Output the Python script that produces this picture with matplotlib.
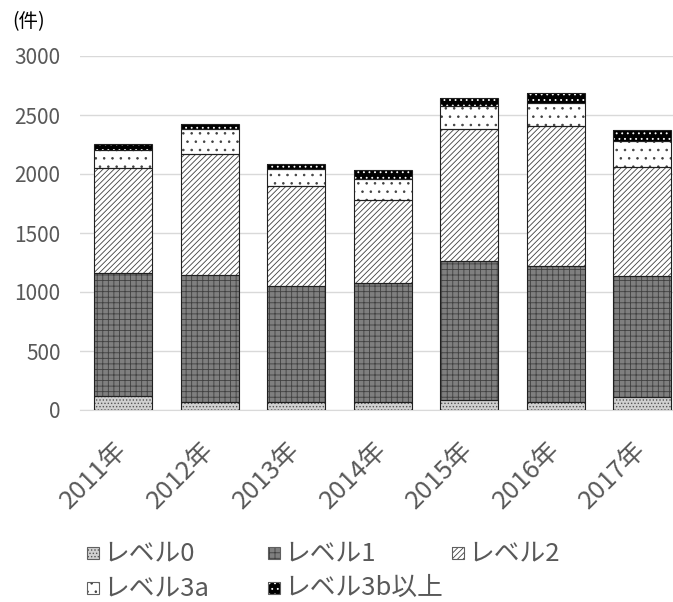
import numpy as np
import matplotlib
matplotlib.use('Agg')
import matplotlib.pyplot as plt
from matplotlib.patches import Rectangle

plt.rcParams['font.family'] = ['Noto Sans CJK JP', 'DejaVu Sans']
plt.rcParams['hatch.linewidth'] = 0.6

years = ['2011年', '2012年', '2013年', '2014年', '2015年', '2016年', '2017年']
level0 = [116, 70, 65, 65, 85, 70, 108]
level1 = [1042, 1074, 989, 1008, 1178, 1150, 1028]
level2 = [890, 1025, 844, 704, 1118, 1190, 921]
level3a = [155, 212, 142, 183, 195, 189, 225]
level3b = [49, 43, 42, 74, 65, 85, 91]
labels = ['レベル0', 'レベル1', 'レベル2', 'レベル3a', 'レベル3b以上']

series = [level0, level1, level2, level3a, level3b]
# face colour, hatch, hatch colour
styles = [
    ('#d0d0d0', '.....', '#555555'),
    ('#7f7f7f', '+++', '#404040'),
    ('#ffffff', '//////', '#404040'),
    ('#ffffff', '..', '#404040'),
    ('#000000', '...', '#ffffff'),
]

W, H = 673, 602
fig = plt.figure(figsize=(W / 100, H / 100), dpi=100)
ax = fig.add_axes([80 / W, 1 - 410 / H, 593 / W, 354 / H])

x = np.arange(len(years))
w = 0.67
bottom = np.zeros(len(years))
for vals, (fc, hatch, hc) in zip(series, styles):
    vals = np.array(vals)
    ax.bar(x, vals, w, bottom=bottom, color=fc, hatch=hatch, edgecolor=hc,
           linewidth=0, zorder=2)
    ax.bar(x, vals, w, bottom=bottom, fill=False, edgecolor='#202020',
           linewidth=0.8, zorder=3)
    bottom += vals

ax.set_ylim(0, 3000)
ax.set_xlim(-0.5, -0.5 + 593 / 86.5)
ax.set_yticks(range(0, 3001, 500))
ax.yaxis.grid(True, color='#d9d9d9', linewidth=1, zorder=0)
ax.set_axisbelow(True)
for s in ['top', 'right', 'left']:
    ax.spines[s].set_visible(False)
ax.spines['bottom'].set_color('#d9d9d9')
ax.tick_params(length=0, labelcolor='#595959')
ax.tick_params(axis='y', labelsize=15, pad=14)
ax.set_xticks(x)
ax.set_xticklabels(years, rotation=45, ha='right', va='center',
                   rotation_mode='anchor', fontsize=18.5, color='#595959')
ax.tick_params(axis='x', pad=26)

fig.text(12 / W, 1 - 22 / H, '(件)', fontsize=14, color='#000000',
         va='center', ha='left')

# legend laid out by hand: 3 columns, 2 rows
col_x = [87, 268, 452]
row_y = [553, 588]
sq = 12
for i, (lab, (fc, hatch, hc)) in enumerate(zip(labels, styles)):
    cx = col_x[i % 3]
    cy = row_y[i // 3]
    fig.patches.append(Rectangle((cx / W, 1 - (cy + sq / 2) / H), sq / W, sq / H,
                                 transform=fig.transFigure, facecolor=fc,
                                 hatch=hatch, edgecolor=hc, linewidth=0))
    fig.patches.append(Rectangle((cx / W, 1 - (cy + sq / 2) / H), sq / W, sq / H,
                                 transform=fig.transFigure, fill=False,
                                 edgecolor='#606060', linewidth=0.8))
    fig.text((cx + sq + 4) / W, 1 - cy / H, lab, fontsize=18.5,
             color='#595959', va='center', ha='left')

fig.savefig('out.png', dpi=100)
